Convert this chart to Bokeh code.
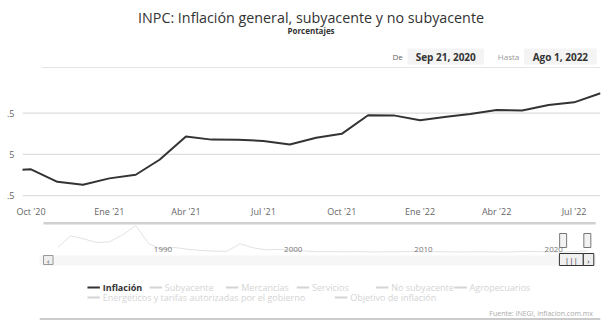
from datetime import datetime
import pandas as pd
from bokeh.plotting import figure
from bokeh.layouts import column
from bokeh.models import Range1d, FixedTicker, ColumnDataSource
from bokeh.core.properties import value
from bokeh.embed import file_html
from bokeh.resources import INLINE

FONT = "Open Sans"

# ---------------- data ----------------
title_text = "INPC: Inflación general, subyacente y no subyacente"
subtitle_text = "Porcentajes"
range_from_label = "Sep 21, 2020"
range_to_label = "Ago 1, 2022"
range_from = "2020-09-21"
range_to = "2022-08-01"

months = ["2020-09-01", "2020-10-01", "2020-11-01", "2020-12-01",
          "2021-01-01", "2021-02-01", "2021-03-01", "2021-04-01",
          "2021-05-01", "2021-06-01", "2021-07-01", "2021-08-01",
          "2021-09-01", "2021-10-01", "2021-11-01", "2021-12-01",
          "2022-01-01", "2022-02-01", "2022-03-01", "2022-04-01",
          "2022-05-01", "2022-06-01", "2022-07-01", "2022-08-01"]
inflacion = [4.01, 4.09, 3.33, 3.15,
             3.54, 3.76, 4.67, 6.08,
             5.89, 5.88, 5.81, 5.59,
             6.00, 6.24, 7.37, 7.36,
             7.07, 7.28, 7.45, 7.68,
             7.65, 7.99, 8.15, 8.70]

x_tick_dates = ["2020-10-01", "2021-01-01", "2021-04-01", "2021-07-01",
                "2021-10-01", "2022-01-01", "2022-04-01", "2022-07-01"]
x_tick_labels = ["Oct '20", "Ene '21", "Abr '21", "Jul '21",
                 "Oct '21", "Ene '22", "Abr '22", "Jul '22"]
y_ticks = [2.5, 5.0, 7.5]
y_tick_labels = [".5", "5", ".5"]

# navigator: full history (annual, December values)
nav_dates = ["1981-12-01", "1982-12-01", "1983-12-01", "1984-12-01", "1985-12-01",
             "1986-12-01", "1987-12-01", "1988-12-01", "1989-12-01", "1990-12-01",
             "1991-12-01", "1992-12-01", "1993-12-01", "1994-12-01", "1995-12-01",
             "1996-12-01", "1997-12-01", "1998-12-01", "1999-12-01", "2000-12-01",
             "2001-12-01", "2002-12-01", "2003-12-01", "2004-12-01", "2005-12-01",
             "2006-12-01", "2007-12-01", "2008-12-01", "2009-12-01", "2010-12-01",
             "2011-12-01", "2012-12-01", "2013-12-01", "2014-12-01", "2015-12-01",
             "2016-12-01", "2017-12-01", "2018-12-01", "2019-12-01", "2020-12-01",
             "2021-12-01", "2022-08-01"]
nav_values = [28.7, 98.8, 80.8, 59.2, 63.7,
              105.7, 159.2, 51.7, 19.7, 29.9,
              18.8, 11.9, 8.0, 7.1, 52.0,
              27.7, 15.7, 18.6, 12.3, 9.0,
              4.4, 5.7, 4.0, 5.2, 3.3,
              4.1, 3.8, 6.5, 3.6, 4.4,
              3.8, 3.6, 4.0, 4.1, 2.1,
              3.4, 6.8, 4.8, 2.8, 3.2,
              7.4, 8.7]
nav_year_dates = ["1990-01-01", "2000-01-01", "2010-01-01", "2020-01-01"]
nav_year_labels = ["1990", "2000", "2010", "2020"]

legend_names = ["Inflación", "Subyacente", "Mercancías", "Servicios",
                "No subyacente", "Agropecuarios",
                "Energéticos y tarifas autorizadas por el gobierno",
                "Objetivo de inflación"]
legend_visible = [True, False, False, False, False, False, False, False]
credit_text = "Fuente: INEGI, inflacion.com.mx"

# ---------------- layout constants ----------------
W = 605
legend_x = [68, 133, 213, 287, 370, 452, 68, 327]
legend_row_y = [17, 17, 17, 17, 17, 17, 27, 27]


def canvas(h):
    f = figure(width=W, height=h, x_range=Range1d(0, W), y_range=Range1d(h, 0),
               min_border=0, toolbar_location=None, output_backend="svg",
               x_axis_location=None, y_axis_location=None,
               outline_line_color=None, background_fill_color="white",
               border_fill_color="white")
    f.grid.visible = False
    return f


# ---------------- header ----------------
hdr = canvas(68)
hdr.text(x=[302], y=[17], text=[title_text], text_font=value(FONT),
         text_font_size="14.3px", text_align="center", text_baseline="middle",
         text_color="#333333")
hdr.text(x=[302], y=[30], text=[subtitle_text], text_font=value(FONT),
         text_font_size="8px", text_font_style="bold", text_align="center",
         text_baseline="middle", text_color="#333333")
hdr.quad(left=[403, 525], right=[483, 601], top=[48, 48], bottom=[64, 64],
         fill_color="#f4f4f4", line_color=None)
hdr.text(x=[398], y=[56], text=["De"], text_font=value(FONT), text_font_size="8px",
         text_align="right", text_baseline="middle", text_color="#666666")
hdr.text(x=[520], y=[56], text=["Hasta"], text_font=value(FONT), text_font_size="8px",
         text_align="right", text_baseline="middle", text_color="#999999")
hdr.text(x=[443, 563], y=[56, 56], text=[range_from_label, range_to_label],
         text_font=value(FONT), text_font_size="10px", text_font_style="bold",
         text_align="center", text_baseline="middle", text_color="#333333")
hdr.line(x=[20, W], y=[67.5, 67.5], line_color="#dddddd", line_width=1.5)

# ---------------- main chart ----------------
dates = pd.to_datetime(months)
src = ColumnDataSource(dict(date=dates, val=inflacion))
x0 = pd.Timestamp(range_from)
x1 = pd.Timestamp(range_to)

main = figure(width=W, height=152, x_axis_type="datetime",
              x_range=Range1d(x0, x1),
              y_range=Range1d(2.32, 8.99),
              min_border_left=22, min_border_right=5, min_border_top=20,
              min_border_bottom=20, toolbar_location=None, output_backend="svg",
              outline_line_color=None, background_fill_color="white",
              border_fill_color="white")
# horizontal grid lines drawn as segments at the y tick values
main.segment(x0=[x0] * len(y_ticks), x1=[x1] * len(y_ticks), y0=y_ticks, y1=y_ticks,
             line_color="#dddddd", line_width=1.2)
main.line(x="date", y="val", source=src, line_color="#333333", line_width=2)

xt = [float(pd.Timestamp(d).value // 10**6) for d in x_tick_dates]
main.xaxis.ticker = FixedTicker(ticks=xt)
main.xaxis.major_label_overrides = {t: l for t, l in zip(xt, x_tick_labels)}
main.yaxis.ticker = FixedTicker(ticks=y_ticks)
main.yaxis.major_label_overrides = {t: l for t, l in zip(y_ticks, y_tick_labels)}
for ax in (main.xaxis[0], main.yaxis[0]):
    ax.axis_line_color = None
    ax.major_tick_line_color = None
    ax.minor_tick_line_color = None
    ax.major_label_text_font = FONT
    ax.major_label_text_font_size = "9px"
    ax.major_label_text_color = "#666666"
main.xaxis.major_label_standoff = 0
main.yaxis.major_label_standoff = 2
main.grid.visible = False

# ---------------- navigator ----------------
NH = 50
nav = figure(width=W, height=NH, x_axis_type="datetime",
             x_range=Range1d(pd.Timestamp("1979-03-21"), pd.Timestamp("2023-08-05")),
             y_range=Range1d(-106.7, 189.6), min_border=0,
             toolbar_location=None, output_backend="svg",
             x_axis_location=None, y_axis_location=None,
             outline_line_color=None, background_fill_color="white",
             border_fill_color="white")
nav.grid.visible = False
nav.extra_x_ranges = {"px": Range1d(0, W)}
nav.extra_y_ranges = {"py": Range1d(NH, 0)}

nav.line(x=pd.to_datetime(nav_dates), y=nav_values, line_color="#e2e2e2", line_width=1)
nav.quad(left=[22], right=[600], top=[1.5], bottom=[4], x_range_name="px",
         y_range_name="py", fill_color="#d0d0d0", line_color=None)
nav.text(x=pd.to_datetime(nav_year_dates), y=[29] * 4, text=nav_year_labels,
         y_range_name="py", text_font=value(FONT), text_font_size="8px",
         text_align="center", text_baseline="middle", text_color="#777777")
# handles
sel = pd.to_datetime([range_from, range_to])
nav.rect(x=sel, y=[20, 20], width=7, height=14, width_units="screen",
         height_units="screen", y_range_name="py", fill_color="#f2f2f2",
         line_color="#777777", line_width=1)
# scrollbar
nav.quad(left=[18], right=[600], top=[35], bottom=[45], x_range_name="px",
         y_range_name="py", fill_color="#f6f6f6", line_color=None)
nav.quad(left=[22, 562, 587], right=[32, 587, 598], top=[35, 33, 33],
         bottom=[44, 45, 45], x_range_name="px", y_range_name="py",
         fill_color=["#eeeeee", "#f0f0f0", "#eeeeee"],
         line_color=["#999999", "#333333", "#333333"], line_width=1)
nav.text(x=[27, 592.5, 574.5], y=[39.5, 39.5, 39], text=["‹", "›", "|||"],
         x_range_name="px", y_range_name="py", text_font=value(FONT),
         text_font_size="8px", text_align="center", text_baseline="middle",
         text_color="#333333")

# ---------------- legend ----------------
leg = canvas(55)
for name, vis, lx, ly in zip(legend_names, legend_visible, legend_x, legend_row_y):
    col = "#333333" if vis else "#d4d4d4"
    leg.line(x=[lx, lx + 13], y=[ly, ly], line_color=col, line_width=2)
    leg.text(x=[lx + 16], y=[ly], text=[name], text_font=value(FONT),
             text_font_size="9px", text_font_style="bold" if vis else "normal",
             text_align="left", text_baseline="middle", text_color=col)
leg.text(x=[597], y=[43], text=[credit_text], text_font=value(FONT),
         text_font_size="7px", text_align="right", text_baseline="middle",
         text_color="#aaaaaa")
leg.line(x=[18, W], y=[48.5, 48.5], line_color="#bbbbbb", line_width=1.5)

layout = column(hdr, main, nav, leg, spacing=0)
open("out.html", "w").write(file_html(layout, INLINE))
